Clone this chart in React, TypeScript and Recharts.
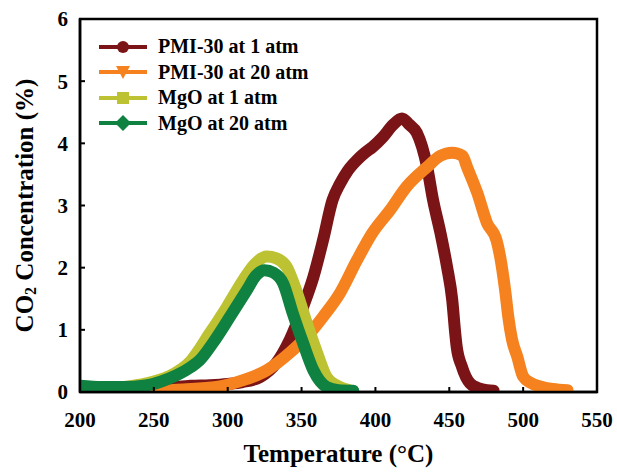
import React from "react";
import { LineChart, Line, XAxis, YAxis, ReferenceArea } from "recharts";

// ── Data ──────────────────────────────────────────────────────────────────────

const pmi1Temp = [215, 230, 245, 260, 275, 288, 300, 310, 322, 333, 342, 351, 358, 364.5, 371, 376, 381, 387.5, 393, 398, 405, 412, 418, 423, 428, 435, 439, 444, 448.5, 452, 454, 455, 458.5, 464, 470, 475.5, 480];
const pmi1Conc = [0.02, 0.03, 0.05, 0.07, 0.1, 0.11, 0.13, 0.16, 0.24, 0.47, 0.84, 1.37, 1.85, 2.44, 3.09, 3.35, 3.55, 3.73, 3.85, 3.94, 4.1, 4.3, 4.4, 4.3, 4.17, 3.62, 3.09, 2.56, 2.01, 1.48, 0.95, 0.73, 0.41, 0.14, 0.06, 0.03, 0.02];

const pmi20Temp = [210, 230, 250, 270, 292.5, 310.5, 326.5, 342, 353.5, 364.5, 376, 387.5, 398, 410, 421, 435, 444, 452, 459, 462, 469, 475.5, 482, 485, 488, 490, 492.5, 496, 500, 505, 511.5, 520, 530];
const pmi20Conc = [0.0, 0.01, 0.02, 0.04, 0.08, 0.19, 0.35, 0.63, 0.89, 1.21, 1.59, 2.12, 2.56, 2.93, 3.3, 3.62, 3.8, 3.85, 3.8, 3.62, 3.2, 2.72, 2.44, 2.1, 1.6, 1.2, 0.84, 0.57, 0.25, 0.15, 0.09, 0.05, 0.03];

const mgo1Temp = [200, 215, 230, 245, 260, 275, 288, 299.5, 310.5, 318, 326.4, 333, 340, 347, 353.5, 360.5, 367, 376, 382];
const mgo1Conc = [0.03, 0.05, 0.08, 0.14, 0.25, 0.5, 0.95, 1.37, 1.8, 2.05, 2.18, 2.15, 2.01, 1.59, 1.11, 0.63, 0.24, 0.08, 0.03];

const mgo20Temp = [200, 215, 230, 243, 255, 265.5, 275, 281, 290, 301.5, 313, 319, 325, 331, 337.5, 344, 351, 358, 367, 375, 385];
const mgo20Conc = [0.1, 0.08, 0.08, 0.1, 0.17, 0.27, 0.4, 0.51, 0.79, 1.21, 1.64, 1.87, 1.96, 1.92, 1.75, 1.27, 0.79, 0.35, 0.08, 0.03, 0.02];

const xTicks = [200, 250, 300, 350, 400, 450, 500, 550];
const yTicks = [0, 1, 2, 3, 4, 5, 6];

// ── Series config ─────────────────────────────────────────────────────────────

type Marker = "circle" | "triangle" | "square" | "diamond";

const toPoints = (temp: number[], conc: number[]) =>
  temp.map((t, i) => ({ t, c: conc[i] }));

const series: { name: string; color: string; marker: Marker; data: { t: number; c: number }[] }[] = [
  { name: "PMI-30 at 1 atm", color: "#7B1416", marker: "circle", data: toPoints(pmi1Temp, pmi1Conc) },
  { name: "PMI-30 at 20 atm", color: "#F5821F", marker: "triangle", data: toPoints(pmi20Temp, pmi20Conc) },
  { name: "MgO at 1 atm", color: "#BDC232", marker: "square", data: toPoints(mgo1Temp, mgo1Conc) },
  { name: "MgO at 20 atm", color: "#0F8140", marker: "diamond", data: toPoints(mgo20Temp, mgo20Conc) },
];

const FONT = "'Liberation Serif', 'Times New Roman', serif";

function MarkerIcon({ shape, color, cx, cy }: { shape: Marker; color: string; cx: number; cy: number }) {
  if (shape === "circle") return <circle cx={cx} cy={cy} r={6} fill={color} />;
  if (shape === "square") return <rect x={cx - 6} y={cy - 6} width={12} height={12} fill={color} />;
  if (shape === "triangle")
    return <polygon points={`${cx - 7},${cy - 6} ${cx + 7},${cy - 6} ${cx},${cy + 7}`} fill={color} />;
  return <polygon points={`${cx},${cy - 8} ${cx + 8},${cy} ${cx},${cy + 8} ${cx - 8},${cy}`} fill={color} />;
}

// legend sits inside the plot, top-left, like the Excel original
function LegendBox() {
  return (
    <div
      style={{
        position: "absolute",
        left: 98,
        top: 34,
        fontFamily: FONT,
        fontWeight: "bold",
        fontSize: 20,
        lineHeight: "25.5px",
      }}
    >
      {series.map(s => (
        <div key={s.name} style={{ display: "flex", alignItems: "center", height: 25.5 }}>
          <svg width={60} height={24} style={{ flexShrink: 0 }}>
            <line x1={1} y1={12} x2={49} y2={12} stroke={s.color} strokeWidth={4} />
            <MarkerIcon shape={s.marker} color={s.color} cx={25} cy={12} />
          </svg>
          <span style={{ color: "#000", whiteSpace: "nowrap" }}>{s.name}</span>
        </div>
      ))}
    </div>
  );
}

function YTitle({ viewBox }: any) {
  const cx = 24;
  const cy = viewBox.y + viewBox.height / 2;
  return (
    <text
      x={cx}
      y={cy}
      transform={`rotate(-90, ${cx}, ${cy})`}
      textAnchor="middle"
      dominantBaseline="central"
      fontFamily={FONT}
      fontWeight="bold"
      fontSize={25}
      fill="#000"
    >
      <tspan>CO</tspan>
      <tspan fontSize={16} dy={6}>2</tspan>
      <tspan dy={-6}> Concentration (%)</tspan>
    </text>
  );
}

function XTitle({ viewBox }: any) {
  const cx = viewBox.x + viewBox.width / 2;
  return (
    <text x={cx} y={462} textAnchor="middle" fontFamily={FONT} fontWeight="bold" fontSize={25} fill="#000">
      Temperature (°C)
    </text>
  );
}

const tickStyle = { fill: "#000", fontSize: 21, fontWeight: "bold" as const, fontFamily: FONT };

export default function App() {
  return (
    <div style={{ position: "absolute", left: 0, top: 0, width: 617, height: 473, background: "#fff" }}>
      <LineChart width={617} height={473} margin={{ top: 19, right: 20, bottom: 41, left: 0 }}>
        <XAxis
          type="number"
          dataKey="t"
          domain={[200, 550]}
          ticks={xTicks}
          allowDataOverflow
          tick={tickStyle}
          tickSize={-5}
          tickMargin={25}
          tickLine={{ stroke: "#000", strokeWidth: 2 }}
          axisLine={{ stroke: "#000", strokeWidth: 2.5 }}
          height={40}
          label={{ content: <XTitle /> }}
        />
        <YAxis
          type="number"
          domain={[0, 6]}
          ticks={yTicks}
          allowDataOverflow
          tick={tickStyle}
          tickSize={-5}
          tickMargin={17}
          tickLine={{ stroke: "#000", strokeWidth: 2 }}
          axisLine={{ stroke: "#000", strokeWidth: 2.5 }}
          width={80}
          label={{ content: <YTitle /> }}
        />
        <ReferenceArea x1={200} x2={550} y1={0} y2={6} fill="none" stroke="#000" strokeWidth={2.5} />
        {series.map(s => (
          <Line
            key={s.name}
            data={s.data}
            dataKey="c"
            name={s.name}
            type="monotone"
            stroke={s.color}
            strokeWidth={12}
            strokeLinecap="round"
            strokeLinejoin="round"
            dot={false}
            activeDot={false}
            isAnimationActive={false}
          />
        ))}
      </LineChart>
      <LegendBox />
    </div>
  );
}
